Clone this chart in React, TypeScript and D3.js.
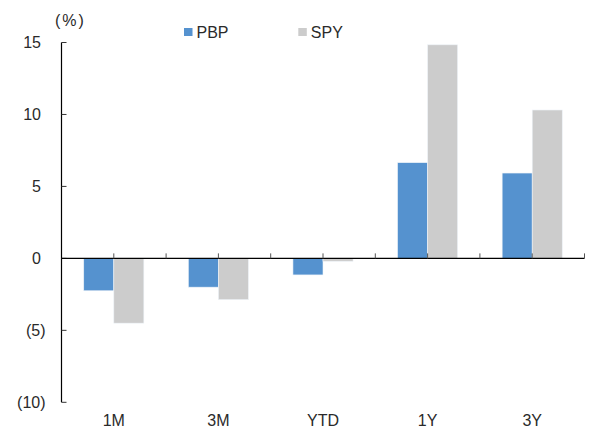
import React from "react";
import * as d3 from "d3";

const categories = ["1M", "3M", "YTD", "1Y", "3Y"];
const seriesNames = ["PBP", "SPY"];
const pbpValues = [-2.25, -2.0, -1.15, 6.65, 5.93];
const spyValues = [-4.5, -2.87, -0.2, 14.84, 10.31];
const yTicks = [15, 10, 5, 0, -5, -10];
const colors = ["#5592CF", "#CCCCCC"];

const W = 590;
const H = 429;
const left = 61.5;
const right = 584.5;
const yTop = 42.5;
const yBottom = 402.3;
const font = "'Liberation Sans', Arial, sans-serif";

function fmt(v: number) {
  return v < 0 ? `(${Math.abs(v)})` : `${v}`;
}

export default function App() {
  const x = d3.scaleBand<string>().domain(categories).range([left, right]).paddingInner(0).paddingOuter(0);
  const y = d3.scaleLinear().domain([-10, 15]).range([yBottom, yTop]);
  const inner = d3.scaleBand<string>().domain(seriesNames).range([0, x.bandwidth()]).paddingInner(0).paddingOuter(0.74);
  const values = [pbpValues, spyValues];
  const y0 = y(0);
  const bw = x.bandwidth();
  const halfTicks: number[] = [];
  for (let i = 0; i <= categories.length * 2; i++) halfTicks.push(left + (i * bw) / 2);

  return (
    <svg width={W} height={H} style={{ position: "absolute", left: 0, top: 0 }}>
      <rect width={W} height={H} fill="#fff" />
      {seriesNames.map((s, si) =>
        categories.map((c, ci) => {
          const v = values[si][ci];
          const bx = (x(c) as number) + (inner(s) as number);
          return (
            <rect
              key={s + c}
              x={bx}
              width={inner.bandwidth()}
              y={Math.min(y(v), y0)}
              height={Math.abs(y(v) - y0)}
              fill={colors[si]}
              stroke="#eef3f8"
              strokeWidth={0.6}
            />
          );
        })
      )}
      {/* y axis */}
      <line x1={left} x2={left} y1={yTop} y2={yBottom} stroke="#000" strokeWidth={1.2} />
      {yTicks.map((t) => (
        <g key={t}>
          <line x1={left} x2={left + 5} y1={y(t)} y2={y(t)} stroke="#333" strokeWidth={1} />
          <text
            x={t < 0 ? 45.5 : 41}
            y={y(t)}
            dy="0.36em"
            textAnchor="end"
            fontFamily={font}
            fontSize={16}
            fill="#2a2a2a"
          >
            {fmt(t)}
          </text>
        </g>
      ))}
      {/* x axis */}
      <line x1={left} x2={right} y1={y0} y2={y0} stroke="#000" strokeWidth={1.2} />
      {halfTicks.slice(1).map((tx, i) => (
        <line key={i} x1={tx} x2={tx} y1={y0} y2={y0 - 5} stroke="#555" strokeWidth={1} />
      ))}
      {categories.map((c) => (
        <text
          key={c}
          x={(x(c) as number) + bw / 2}
          y={426}
          textAnchor="middle"
          fontFamily={font}
          fontSize={16}
          fill="#2a2a2a"
        >
          {c}
        </text>
      ))}
      <text x={55} y={26} fontFamily={font} fontSize={16} letterSpacing={2} fill="#2a2a2a">
        (%)
      </text>
      {/* legend */}
      {seriesNames.map((s, i) => {
        const lx = i === 0 ? 184 : 298.3;
        return (
          <g key={s}>
            <rect x={lx} y={28} width={8.5} height={8} fill={colors[i]} />
            <text x={lx + 12.5} y={37.8} fontFamily={font} fontSize={16} fill="#2a2a2a">
              {s}
            </text>
          </g>
        );
      })}
    </svg>
  );
}
